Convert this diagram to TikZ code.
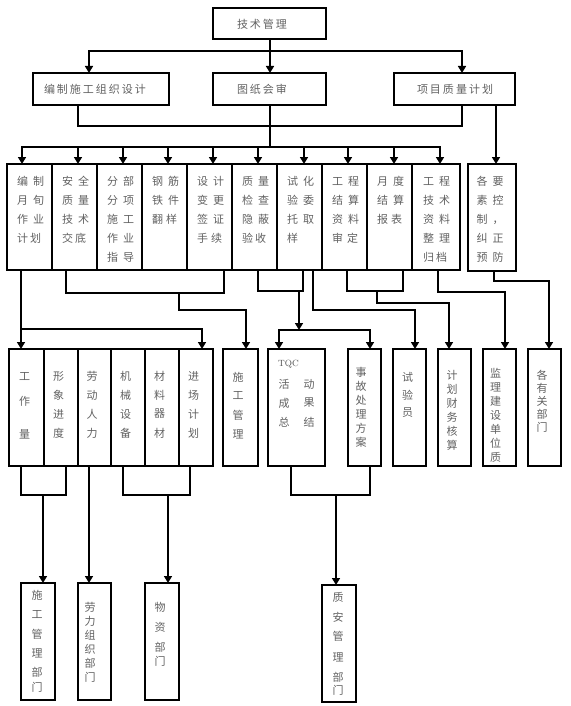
\documentclass[tikz,border=0pt]{standalone}
\usepackage{fontspec}
\newfontfamily\cjk{Noto Sans CJK SC}
\usetikzlibrary{arrows.meta}
\newcommand\Kbox[5]{\node[box, minimum width=#4pt-#2pt, minimum height=#5pt-#3pt] (#1) at (#2,#3) {};}
\newcommand\Krow[3]{\foreach \t [count=\i] in {#3} \node[txt, anchor=west] (#1t\i) at (#2+10, 162+19*\i) {\t};}
\newcommand\Kcol[5]{\foreach \t [count=\i] in {#5} \node[txt] (#1t\i) at (#2, #3+#4*\i-#4) {\t};}
\newcommand\Kcolp[3]{\foreach \t/\yy [count=\i] in {#3} \node[txt] (#1t\i) at (#2, \yy) {\t};}
\begin{document}
\begin{tikzpicture}[x=1pt,y=-1pt,
  box/.style={draw, line width=1.6pt, inner sep=0pt, outer sep=0pt, anchor=north west},
  conn/.style={line width=1.6pt, line cap=rect},
  arr/.style={line width=1.6pt, -{Triangle[width=8pt,length=7pt]}},
  txt/.style={font=\cjk\fontsize{11}{13}\selectfont, text=black!62, inner sep=0pt},
]
\useasboundingbox (0,0) rectangle (570,706);
% ---------- top and row 1
\Kbox{T}{213}{8}{326}{39}
\node[txt] (Tt) at (262,24) {技\kern2pt术\kern2pt管\kern2pt理};
\Kbox{A}{33}{73}{169}{105}
\node[txt] (At) at (95,89) {编\kern2pt制\kern2pt施\kern2pt工\kern2pt组\kern2pt织\kern2pt设\kern2pt计};
\Kbox{B}{213}{73}{326}{105}
\node[txt] (Bt) at (262,89) {图\kern2pt纸\kern2pt会\kern2pt审};
\Kbox{C}{394}{73}{515}{105}
\node[txt] (Ct) at (455,89) {项\kern2pt目\kern2pt质\kern2pt量\kern2pt计\kern2pt划};
% ---------- row 2
\Kbox{m1}{7}{164}{52}{270}
\Kbox{m2}{52}{164}{97}{270}
\Kbox{m3}{97}{164}{142}{270}
\Kbox{m4}{142}{164}{187}{270}
\Kbox{m5}{187}{164}{232}{270}
\Kbox{m6}{232}{164}{277}{270}
\Kbox{m7}{277}{164}{322}{270}
\Kbox{m8}{322}{164}{367}{270}
\Kbox{m9}{367}{164}{412}{270}
\Kbox{m10}{412}{164}{460}{270}
\Kbox{m11}{468}{164}{516}{271}
\Krow{m1}{7}{编\hspace{5pt}制,月\hspace{5pt}旬,作\hspace{5pt}业,计\hspace{2pt}划}
\Krow{m2}{52}{安\hspace{5pt}全,质\hspace{5pt}量,技\hspace{5pt}术,交\hspace{2pt}底}
\Krow{m3}{97}{分\hspace{5pt}部,分\hspace{5pt}项,施\hspace{5pt}工,作\hspace{5pt}业,指\hspace{5pt}导}
\Krow{m4}{142}{钢\hspace{5pt}筋,铁\hspace{5pt}件,翻\hspace{3pt}样}
\Krow{m5}{187}{设\hspace{5pt}计,变\hspace{5pt}更,签\hspace{5pt}证,手\hspace{3pt}续}
\Krow{m6}{232}{质\hspace{5pt}量,检\hspace{5pt}查,隐\hspace{5pt}蔽,验\hspace{2pt}收}
\Krow{m7}{277}{试\hspace{5pt}化,验\hspace{5pt}委,托\hspace{5pt}取,样}
\Krow{m8}{322}{工\hspace{5pt}程,结\hspace{5pt}算,资\hspace{5pt}料,审\hspace{4pt}定}
\Krow{m9}{367}{月\hspace{5pt}度,结\hspace{5pt}算,报\hspace{3pt}表}
\Krow{m10}{413}{工\hspace{5pt}程,技\hspace{5pt}术,资\hspace{5pt}料,整\hspace{5pt}理,归\hspace{2pt}档}
\Krow{m11}{466.5}{各\hspace{5pt}要,素\hspace{5pt}控,制\hspace{5pt}，,纠\hspace{5pt}正,预\hspace{5pt}防}
% ---------- row 3
\Kbox{r1}{9}{349}{44}{466}
\Kbox{r2}{44}{349}{78}{466}
\Kbox{r3}{78}{349}{111}{466}
\Kbox{r4}{111}{349}{145}{466}
\Kbox{r5}{145}{349}{179}{466}
\Kbox{r6}{179}{349}{213}{466}
\Kbox{r7}{223}{349}{258}{466}
\Kbox{r8}{268}{349}{325}{466}
\Kbox{r9}{348}{349}{381}{466}
\Kbox{r10}{393}{349}{426}{466}
\Kbox{r11}{438}{349}{471}{466}
\Kbox{r12}{483}{349}{516}{466}
\Kbox{r13}{528}{349}{561}{466}
\Kcolp{r1}{24.5}{工/377,作/401,量/434}
\Kcol{r2}{58.5}{376}{19}{形,象,进,度}
\Kcol{r3}{92}{376}{19}{劳,动,人,力}
\Kcol{r4}{125.5}{376}{19}{机,械,设,备}
\Kcol{r5}{159.5}{376}{19}{材,料,器,材}
\Kcol{r6}{193.5}{376}{19}{进,场,计,划}
\Kcol{r7}{238}{377}{19}{施,工,管,理}
\node[font=\fontsize{9}{11}\selectfont, text=black!70, inner sep=0pt, anchor=west] (r8q) at (278,364) {TQC};
\Kcol{r8a}{284}{384}{19}{活,成,总}
\Kcol{r8b}{309}{384}{19}{动,果,结}
\Kcol{r9}{361}{372}{14}{事,故,处,理,方,案}
\Kcol{r10}{407.5}{377}{18}{试,验,员}
\Kcol{r11}{452}{375}{14}{计,划,财,务,核,算}
\Kcol{r12}{495.5}{373}{14}{监,理,建,设,单,位,质}
\Kcol{r13}{542}{375}{13}{各,有,关,部,门}
% ---------- bottom row
\Kbox{s1}{21}{583}{55}{700}
\Kbox{s2}{78}{583}{111}{700}
\Kbox{s3}{145}{583}{179}{700}
\Kbox{s4}{322}{585}{356}{702}
\Kcolp{s1}{37}{施/595,工/615,管/634,理/653,部/672,门/687}
\Kcol{s2}{90}{607}{14}{劳,力,组,织,部,门}
\Kcolp{s3}{160}{物/607,资/627,部/647,门/661}
\Kcolp{s4}{338}{质/597,安/617,管/636,理/657,部/677,门/690}
% ---------- connectors: top
\draw[conn] (270,0 |- T.south) -- (270,51);
\draw[conn] (89,51) -- (462,51);
\draw[arr] (89,51) -- (89,0 |- A.north);
\draw[arr] (270,51) -- (270,0 |- B.north);
\draw[arr] (462,51) -- (462,0 |- C.north);
% row 1 -> row 2
\draw[conn] (78,0 |- A.south) -- (78,126) -- (462,126) -- (462,0 |- C.south);
\draw[conn] (270,0 |- B.south) -- (270,147);
\draw[conn] (22,147) -- (440,147);
\foreach \xx/\n in {22/m1,78/m2,123/m3,168/m4,213/m5,258/m6,304/m7,348/m8,394/m9,440/m10}
  \draw[arr] (\xx,147) -- (\xx,0 |- \n.north);
\draw[arr] (496,0 |- C.south) -- (496,0 |- m11.north);
% row 2 -> row 3
\draw[arr] (21,0 |- m1.south) -- (21,0 |- r1.north);
\draw[conn] (21,329) -- (202,329);
\draw[arr] (202,329) -- (202,0 |- r6.north);
\draw[conn] (66,0 |- m2.south) -- (66,293) -- (224,293) -- (224,0 |- m5.south);
\draw[arr] (179,293) |- (246,310) -- (246,0 |- r7.north);
\draw[conn] (258,0 |- m6.south) -- (258,291) -- (303,291) -- (303,0 |- m7.south);
\draw[arr] (299,291) -- (299,330);
\draw[conn] (279,330) -- (370,330);
\draw[arr] (279,330) -- (279,0 |- r8.north);
\draw[arr] (370,330) -- (370,0 |- r9.north);
\draw[arr] (313,0 |- m7.south) |- (415,310) -- (415,0 |- r10.north);
\draw[conn] (347,0 |- m8.south) -- (347,291) -- (403,291) -- (403,0 |- m9.south);
\draw[arr] (377,291) |- (449,303) -- (449,0 |- r11.north);
\draw[arr] (438,0 |- m10.south) |- (505,292) -- (505,0 |- r12.north);
\draw[arr] (494,0 |- m11.south) |- (549,281) -- (549,0 |- r13.north);
% row 3 -> bottom
\draw[conn] (21,0 |- r1.south) -- (21,495) -- (66,495) -- (66,0 |- r2.south);
\draw[arr] (43,495) -- (43,0 |- s1.north);
\draw[arr] (89,0 |- r3.south) -- (89,0 |- s2.north);
\draw[conn] (123,0 |- r4.south) -- (123,495) -- (190,495) -- (190,0 |- r6.south);
\draw[arr] (168,495) -- (168,0 |- s3.north);
\draw[conn] (291,0 |- r8.south) -- (291,495) -- (370,495) -- (370,0 |- r9.south);
\draw[arr] (336,495) -- (336,0 |- s4.north);
\end{tikzpicture}
\end{document}
